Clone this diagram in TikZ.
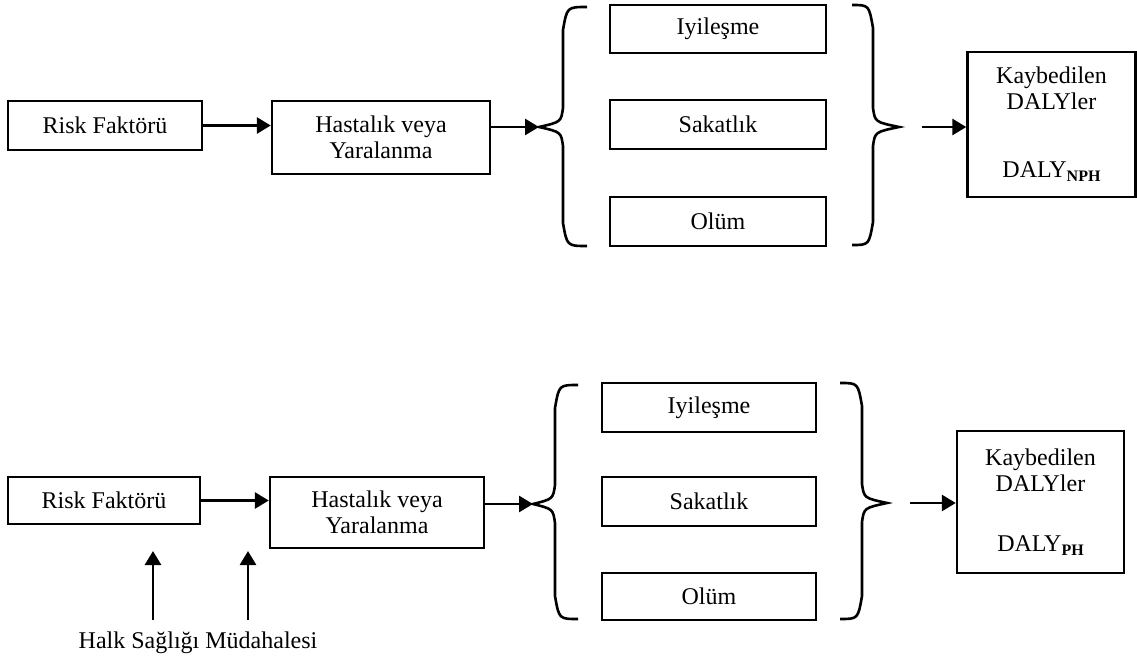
\documentclass[tikz,border=0pt]{standalone}
\usepackage{fontspec}
\setmainfont{Liberation Serif}
\usetikzlibrary{arrows.meta, positioning, calc}

\begin{document}
\begin{tikzpicture}[
            x=0.5pt,
            y=-0.5pt,
            >={Triangle[length=7pt,width=8pt]},
            kutu/.style={draw, line width=1.2pt, align=center, inner sep=0pt,
                font=\fontsize{12}{13}\selectfont},
            ok/.style={->, line width=1.4pt},
            parantez/.style={line width=1.3pt}
            ]
            \useasboundingbox (0,0) rectangle (1137,664);

            % ust sema
            \node[kutu, minimum width=97pt, minimum height=24.5pt] (riskA) at (105,125.5) {Risk Faktörü};
            \node[kutu, minimum width=109pt, minimum height=36.5pt] (hastA) at (381,137.5) {Hastalık veya\\Yaralanma};

            \node[kutu, minimum width=108pt, minimum height=24pt] (iyiA) at (718,29) {Iyileşme};
            \node[kutu, minimum width=108pt, minimum height=24.5pt] (sakA) at (718,124.5) {Sakatlık};
            \node[kutu, minimum width=108pt, minimum height=24.5pt] (olumA) at (718,221.5) {Olüm};

            \node[kutu, minimum width=84pt, minimum height=72.5pt] (dalyA) at (1051.5,124.5)
                {Kaybedilen\\DALYler\\[21pt]DALY\raisebox{-2pt}{\fontsize{8}{8}\selectfont\bfseries NPH}};

            \coordinate (bucA) at (539,127);
            \coordinate (cikA) at (922,127);

            % parantezler
            \draw[parantez] (587,7) .. controls (567,7) .. (563,30) -- (563,108)
                .. controls (561,122) .. (bucA) .. controls (561,132) .. (563,146)
                -- (563,223) .. controls (567,246) .. (587,246);
            \draw[parantez] (852,5) .. controls (869,5) .. (873,28) -- (873,108)
                .. controls (875,122) .. (899,127) .. controls (875,132) .. (873,146)
                -- (873,222) .. controls (869,245) .. (852,245);

            % oklar
            \draw[ok] (riskA.east) -- (riskA.east -| hastA.west);
            \draw[ok] (hastA.east |- bucA) -- (bucA);
            \draw[ok] (cikA) -- (cikA -| dalyA.west);

            % alt sema
            \node[kutu, minimum width=96pt, minimum height=23.5pt] (riskB) at (104,500.5) {Risk Faktörü};
            \node[kutu, minimum width=107pt, minimum height=35.5pt] (hastB) at (377,512.5) {Hastalık veya\\Yaralanma};

            \node[kutu, minimum width=107pt, minimum height=24.5pt] (iyiB) at (709,407.5) {Iyileşme};
            \node[kutu, minimum width=107pt, minimum height=24.5pt] (sakB) at (709,501.5) {Sakatlık};
            \node[kutu, minimum width=107pt, minimum height=23.5pt] (olumB) at (709,596.5) {Olüm};

            \node[kutu, minimum width=83.5pt, minimum height=71pt] (dalyB) at (1040.5,502)
                {Kaybedilen\\DALYler\\[17pt]DALY\raisebox{-2pt}{\fontsize{8}{8}\selectfont\bfseries PH}};

            \node[font=\fontsize{12}{13}\selectfont, inner sep=0pt] (halk) at (198,643) {Halk Sağlığı Müdahalesi};

            \coordinate (bucB) at (533,504);
            \coordinate (cikB) at (910,503);
            \coordinate (mudA) at (153,620);
            \coordinate (mudB) at (248,620);
            \coordinate (mudU) at (0,551);

            \draw[parantez] (578,385) .. controls (559,385) .. (555,408) -- (555,485)
                .. controls (553,499) .. (bucB) .. controls (553,509) .. (555,523)
                -- (555,596) .. controls (559,619) .. (578,619);
            \draw[parantez] (840,383) .. controls (858,383) .. (862,406) -- (862,484)
                .. controls (864,498) .. (887,503) .. controls (864,508) .. (862,522)
                -- (862,596) .. controls (858,619) .. (840,619);

            \draw[ok] (riskB.east) -- (riskB.east -| hastB.west);
            \draw[ok] (hastB.east |- bucB) -- (bucB);
            \draw[ok] (cikB) -- (cikB -| dalyB.west);
            \draw[ok] (mudA) -- (mudA |- mudU);
            \draw[ok] (mudB) -- (mudB |- mudU);
        \end{tikzpicture}
\end{document}
